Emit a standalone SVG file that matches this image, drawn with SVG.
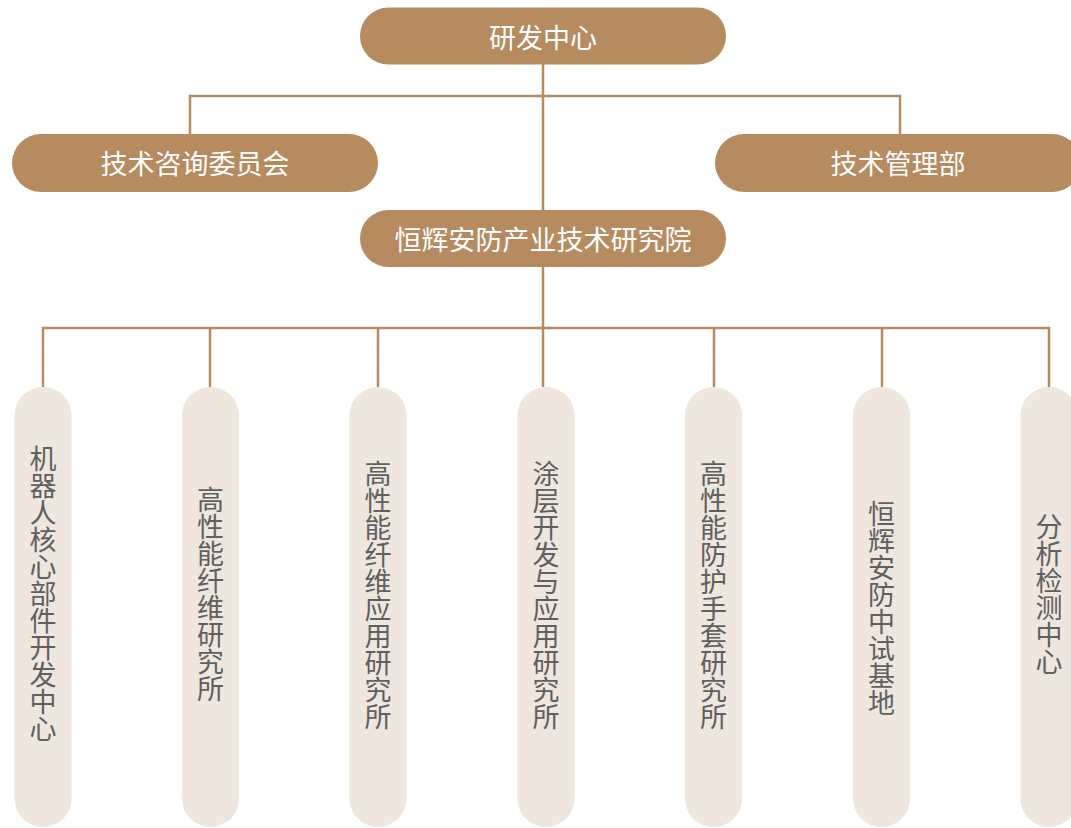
<svg xmlns="http://www.w3.org/2000/svg" width="1071" height="828" viewBox="0 0 1071 828">
<style>
.top{fill:#b58b5f}
.col{fill:#efe6dd}
.tt{font-family:"Noto Sans CJK SC","Noto Sans",sans-serif;font-size:27px;fill:#ffffff;text-anchor:middle;dominant-baseline:central}
.vt{font-family:"Noto Sans CJK SC","Noto Sans",sans-serif;font-size:27px;fill:#606060;writing-mode:vertical-rl;text-orientation:upright;text-anchor:middle}
.ln{stroke:#b58b5f;stroke-width:2.5;fill:none}
</style>
<rect width="1071" height="828" fill="#ffffff"/>
<g id="connectors">
<path class="ln" d="M543 64V210"/>
<path class="ln" d="M190 134V96H900V134"/>
<path class="ln" d="M543 267V387"/>
<path class="ln" d="M43 387V328H1049V387"/>
<path class="ln" d="M210 328V387M378 328V387M714 328V387M882 328V387"/>
</g>
<g id="n-rd"><rect class="top" x="360" y="7.5" width="366" height="57" rx="28.5"/><text class="tt" x="543" y="36">研发中心</text></g>
<g id="n-advisory"><rect class="top" x="12" y="134" width="366" height="58" rx="29"/><text class="tt" x="195" y="162">技术咨询委员会</text></g>
<g id="n-mgmt"><rect class="top" x="715" y="134" width="366" height="58" rx="29"/><text class="tt" x="898" y="162">技术管理部</text></g>
<g id="n-institute"><rect class="top" x="360" y="210" width="366" height="57" rx="28.5"/><text class="tt" x="543" y="238">恒辉安防产业技术研究院</text></g>
<g id="c1"><rect class="col" x="14.5" y="387" width="57" height="440" rx="28.5"/><text class="vt" x="43" y="594">机器人核心部件开发中心</text></g>
<g id="c2"><rect class="col" x="182" y="387" width="57" height="440" rx="28.5"/><text class="vt" x="210.5" y="594">高性能纤维研究所</text></g>
<g id="c3"><rect class="col" x="349.5" y="387" width="57" height="440" rx="28.5"/><text class="vt" x="378" y="595">高性能纤维应用研究所</text></g>
<g id="c4"><rect class="col" x="517.5" y="387" width="57" height="440" rx="28.5"/><text class="vt" x="546" y="595">涂层开发与应用研究所</text></g>
<g id="c5"><rect class="col" x="685" y="387" width="57" height="440" rx="28.5"/><text class="vt" x="713.5" y="595">高性能防护手套研究所</text></g>
<g id="c6"><rect class="col" x="853" y="387" width="57" height="440" rx="28.5"/><text class="vt" x="881.5" y="608">恒辉安防中试基地</text></g>
<g id="c7"><rect class="col" x="1020.5" y="387" width="57" height="440" rx="28.5"/><text class="vt" x="1049" y="594">分析检测中心</text></g>
</svg>
